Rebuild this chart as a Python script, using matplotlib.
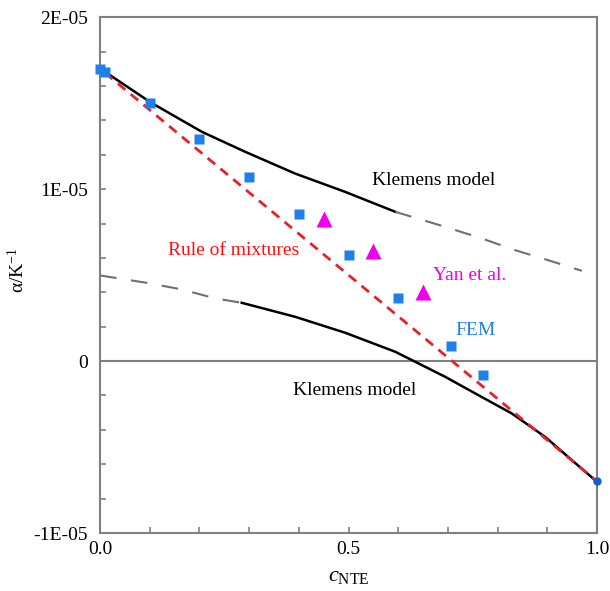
import numpy as np
import matplotlib
matplotlib.use("Agg")
import matplotlib.pyplot as plt
from matplotlib.ticker import MultipleLocator, FixedLocator

plt.rcParams['font.family'] = ['Liberation Serif', 'DejaVu Serif']
plt.rcParams['mathtext.fontset'] = 'custom'
plt.rcParams['mathtext.rm'] = 'Liberation Serif'
plt.rcParams['mathtext.it'] = 'Liberation Serif:italic'

# FEM results (blue squares)
fem_x = [0.0, 0.01, 0.1, 0.2, 0.3, 0.4, 0.5, 0.6, 0.706, 0.77]
fem_y = [1.70e-5, 1.68e-5, 1.50e-5, 1.29e-5, 1.07e-5, 8.55e-6, 6.16e-6, 3.66e-6, 8.7e-7, -8.1e-7]
# pure NTE end point
end_x = [1.0]
end_y = [-7.0e-6]

# Yan et al. (magenta triangles)
yan_x = [0.45, 0.55, 0.65]
yan_y = [8.26e-6, 6.40e-6, 4.01e-6]

# rule of mixtures
rom_x = [0.01, 1.0]
rom_y = [1.676e-5, -7.0e-6]

# Klemens model, upper branch (solid part, then dashed part)
ku_x = [0.0, 0.010, 0.103, 0.205, 0.292, 0.392, 0.493, 0.594]
ku_y = [1.70e-5, 1.682e-5, 1.502e-5, 1.333e-5, 1.217e-5, 1.091e-5, 9.84e-6, 8.68e-6]
kud_x = [0.594, 0.694, 0.768, 0.835, 0.901, 0.969]
kud_y = [8.68e-6, 7.81e-6, 7.13e-6, 6.45e-6, 5.87e-6, 5.25e-6]

# Klemens model, lower branch (dashed part, then solid part)
kld_x = [0.0, 0.094, 0.164, 0.231, 0.285]
kld_y = [4.98e-6, 4.55e-6, 4.17e-6, 3.65e-6, 3.39e-6]
kl_x = [0.285, 0.392, 0.493, 0.594, 0.634, 0.694, 0.761, 0.828, 0.895, 0.942, 1.0]
kl_y = [3.39e-6, 2.58e-6, 1.65e-6, 5.4e-7, -4e-8, -9.1e-7, -1.98e-6, -3.04e-6, -4.40e-6, -5.58e-6, -7.03e-6]

fig = plt.figure(figsize=(6.1, 5.91), dpi=100)
ax = fig.add_axes([0.164, 0.098, 0.815, 0.873])

ax.axhline(0, color='#808080', lw=1.5, zorder=1)

ax.plot(ku_x, ku_y, color='black', lw=1.8, zorder=2)
ax.plot(kud_x, kud_y, color='#707070', lw=1.5, dashes=(8, 7), zorder=2)
ax.plot(kld_x, kld_y, color='#707070', lw=1.5, dashes=(8, 7), zorder=2)
ax.plot(kl_x, kl_y, color='black', lw=1.8, zorder=2)
ax.plot(rom_x, rom_y, color='#e8202a', lw=2.0, dashes=(3.5, 2.5), zorder=3)

ax.plot(fem_x, fem_y, 's', color='#1f80e8', ms=7, mec='none', zorder=4, clip_on=False)
ax.plot(end_x, end_y, 'o', color='#1060c8', ms=6, mec='none', zorder=4, clip_on=False)
ax.plot(yan_x, yan_y, '^', color='#ee00ee', ms=11, mec='none', zorder=4)

ax.text(0.547, 1.052e-5, 'Klemens model', fontsize=14, va='center', ha='left')
ax.text(0.388, -1.69e-6, 'Klemens model', fontsize=14, va='center', ha='left')
ax.text(0.137, 6.45e-6, 'Rule of mixtures', fontsize=14, va='center', ha='left', color='#ff1010')
ax.text(0.67, 5.0e-6, 'Yan et al.', fontsize=14, va='center', ha='left', color='#ee00ee')
ax.text(0.714, 1.8e-6, 'FEM', fontsize=14, va='center', ha='left', color='#1f80e8')

ax.set_xlim(0, 1)
ax.set_ylim(-1e-5, 2e-5)

ax.xaxis.set_major_locator(FixedLocator([0.0, 0.5, 1.0]))
ax.xaxis.set_minor_locator(MultipleLocator(0.1))
ax.set_xticklabels(['0.0', '0.5', '1.0'])
ax.yaxis.set_major_locator(FixedLocator([-1e-5, 0, 1e-5, 2e-5]))
ax.yaxis.set_minor_locator(MultipleLocator(2e-6))
ax.set_yticklabels(['-1E-05', '0', '1E-05', '2E-05'])

ax.tick_params(which='both', direction='in', color='#808080', labelsize=14)
ax.tick_params(which='major', length=4, width=1.2, pad=6)
ax.tick_params(which='minor', length=4, width=1.2)
ax.tick_params(axis='y', which='major', pad=8.5)
for s in ax.spines.values():
    s.set_color('#808080')
    s.set_linewidth(1.5)

ax.set_xlabel(r'$c_{\mathrm{NTE}}$', fontsize=16, labelpad=6)
ax.set_ylabel(r'α/K$^{-1}$', fontsize=14)
ax.yaxis.set_label_coords(-0.145, 0.51)

fig.savefig('out.png', dpi=100)
